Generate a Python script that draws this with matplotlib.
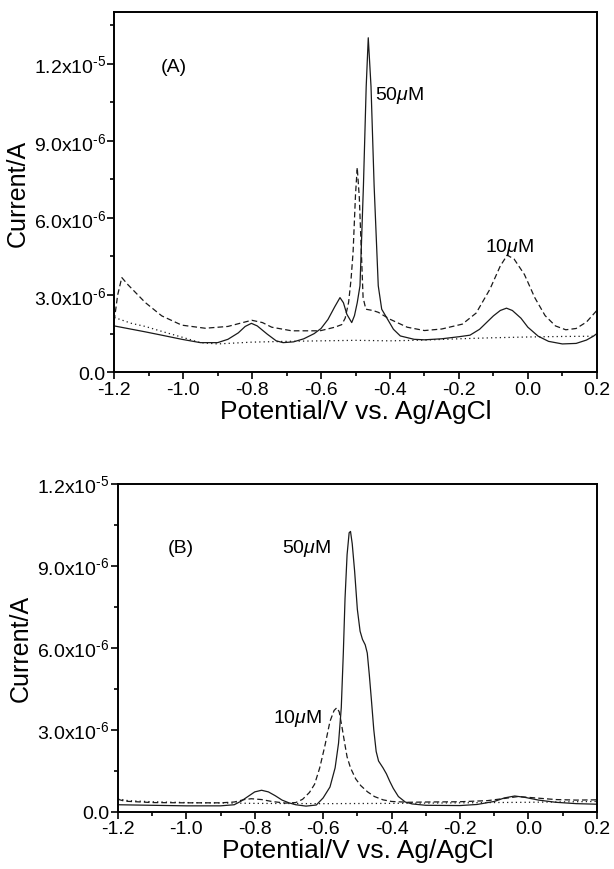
import matplotlib
matplotlib.use("Agg")
import matplotlib.pyplot as plt
from matplotlib.ticker import MultipleLocator, FuncFormatter

plt.rcParams['font.family'] = ['Liberation Sans', 'DejaVu Sans']
plt.rcParams['mathtext.fontset'] = 'custom'
plt.rcParams['mathtext.rm'] = 'Liberation Sans'
plt.rcParams['mathtext.it'] = 'Liberation Sans:italic'

# ---- panel A (values in 1e-6 A) ----
a50_x = [-1.2, -1.11, -1.062, -1.004, -0.95, -0.9, -0.87, -0.84, -0.82, -0.802, -0.785, -0.756,
         -0.73, -0.71, -0.68, -0.65, -0.62, -0.6, -0.58, -0.56, -0.545, -0.535, -0.525, -0.511,
         -0.503, -0.495, -0.487, -0.477, -0.469, -0.463, -0.455, -0.446, -0.434, -0.424, -0.39,
         -0.37, -0.33, -0.3, -0.25, -0.2, -0.168, -0.14, -0.1, -0.08, -0.062, -0.045, -0.02, 0.0,
         0.03, 0.06, 0.1, 0.14, 0.17, 0.19, 0.2]
a50_y = [1.8, 1.57, 1.44, 1.28, 1.15, 1.15, 1.28, 1.53, 1.78, 1.9, 1.8, 1.48,
         1.22, 1.15, 1.18, 1.3, 1.5, 1.7, 2.05, 2.55, 2.9, 2.7, 2.25, 1.93,
         2.2, 2.7, 3.36, 7.25, 11.1, 13.0, 11.1, 7.25, 3.36, 2.45, 1.67,
         1.41, 1.28, 1.26, 1.3, 1.38, 1.44, 1.67, 2.19, 2.4, 2.49, 2.4, 2.1, 1.75,
         1.4, 1.2, 1.1, 1.12, 1.25, 1.4, 1.5]

a10_x = [-1.2, -1.19, -1.178, -1.16, -1.11, -1.062, -1.004, -0.936, -0.87, -0.83, -0.801, -0.77,
         -0.743, -0.685, -0.603, -0.56, -0.54, -0.53, -0.52, -0.513, -0.507, -0.5, -0.495, -0.489,
         -0.483, -0.478, -0.47, -0.45, -0.434, -0.4, -0.35, -0.3, -0.25, -0.19, -0.15, -0.11,
         -0.08, -0.06, -0.04, -0.01, 0.02, 0.05, 0.08, 0.11, 0.14, 0.17, 0.2]
a10_y = [2.0, 3.0, 3.68, 3.4, 2.71, 2.19, 1.83, 1.71, 1.78, 1.92, 2.02, 1.93,
         1.75, 1.61, 1.61, 1.75, 1.85, 2.1, 2.72, 3.6, 4.67, 6.9, 7.96, 6.8,
         4.67, 2.9, 2.45, 2.4, 2.33, 2.06, 1.75, 1.62, 1.68, 1.87, 2.3, 3.23,
         4.13, 4.55, 4.4, 3.8, 2.9, 2.2, 1.8, 1.65, 1.7, 1.95, 2.4]

a0_x = [-1.2, -1.15, -1.11, -1.06, -1.0, -0.95, -0.9, -0.8, -0.7, -0.6, -0.5, -0.4, -0.3,
        -0.2, -0.1, 0.0, 0.1, 0.2]
a0_y = [2.13, 1.9, 1.78, 1.58, 1.35, 1.15, 1.1, 1.17, 1.2, 1.22, 1.24, 1.22, 1.25,
        1.3, 1.34, 1.37, 1.39, 1.4]

# ---- panel B (values in 1e-6 A) ----
b50_x = [-1.2, -1.1, -1.0, -0.9, -0.86, -0.84, -0.82, -0.8, -0.78, -0.76, -0.74, -0.72, -0.7,
         -0.68, -0.65, -0.62, -0.6, -0.58, -0.565, -0.555, -0.547, -0.541, -0.536, -0.53,
         -0.524, -0.52, -0.515, -0.508, -0.5, -0.492, -0.485, -0.477, -0.471, -0.465, -0.459,
         -0.452, -0.445, -0.438, -0.425, -0.415, -0.405, -0.395, -0.38, -0.36, -0.34, -0.3,
         -0.2, -0.15, -0.1, -0.07, -0.04, -0.01, 0.03, 0.08, 0.14, 0.2]
b50_y = [0.25, 0.23, 0.21, 0.21, 0.25, 0.38, 0.55, 0.72, 0.78, 0.72, 0.58, 0.42, 0.32,
         0.25, 0.2, 0.24, 0.5, 0.9, 1.6, 2.5, 3.8, 5.8, 7.8, 9.4,
         10.2, 10.25, 9.8, 8.8, 7.4, 6.6, 6.3, 6.1, 5.8, 5.0, 4.1,
         3.0, 2.2, 1.85, 1.6, 1.38, 1.1, 0.85, 0.55, 0.35, 0.28, 0.23,
         0.22, 0.26, 0.37, 0.5, 0.57, 0.52, 0.42, 0.34, 0.29, 0.27]

b10_x = [-1.2, -1.18, -1.1, -1.0, -0.9, -0.86, -0.83, -0.81, -0.78, -0.75, -0.71, -0.68, -0.66,
         -0.64, -0.625, -0.61, -0.595, -0.58, -0.568, -0.56, -0.553, -0.545, -0.537, -0.53,
         -0.52, -0.505, -0.49, -0.47, -0.45, -0.425, -0.4, -0.35, -0.3, -0.2, -0.12, -0.07,
         -0.03, 0.02, 0.08, 0.14, 0.2]
b10_y = [0.45, 0.38, 0.33, 0.32, 0.32, 0.35, 0.44, 0.47, 0.44, 0.37, 0.31, 0.33, 0.45,
         0.7, 1.0, 1.6, 2.4, 3.3, 3.7, 3.8, 3.65, 3.1, 2.5, 2.0,
         1.6, 1.2, 0.95, 0.72, 0.55, 0.43, 0.37, 0.34, 0.35, 0.36, 0.4, 0.48,
         0.55, 0.5, 0.44, 0.42, 0.43]

b0_x = [-1.2, -1.17, -1.1, -1.0, -0.8, -0.6, -0.4, -0.2, 0.0, 0.2]
b0_y = [0.47, 0.4, 0.36, 0.33, 0.3, 0.29, 0.3, 0.32, 0.34, 0.37]

col = '#1a1a1a'


def sci_fmt(v, pos):
    if abs(v) < 1e-12:
        return '0.0'
    exp = int(f'{v:e}'.split('e')[1])
    mant = v / 10 ** exp
    # short hyphen in the exponent, like the original figure
    return f'{mant:.1f}x10$^{{\u2010{abs(exp)}}}$'


def style(ax, ytop):
    ax.set_xlim(-1.2, 0.2)
    ax.set_ylim(0, ytop)
    ax.xaxis.set_major_locator(MultipleLocator(0.2))
    ax.xaxis.set_minor_locator(MultipleLocator(0.1))
    ax.yaxis.set_major_locator(MultipleLocator(3e-6))
    ax.yaxis.set_minor_locator(MultipleLocator(1.5e-6))
    ax.xaxis.set_major_formatter(FuncFormatter(lambda v, p: f'{v:.1f}'))
    ax.yaxis.set_major_formatter(FuncFormatter(sci_fmt))
    ax.tick_params(which='both', direction='out', top=False, right=False,
                   labelsize=14, width=1.2, pad=1)
    ax.tick_params(which='major', length=5)
    ax.tick_params(which='minor', length=3)
    ax.yaxis.get_offset_text().set_visible(False)
    for s in ax.spines.values():
        s.set_linewidth(1.4)
    ax.set_xlabel('Potential/V vs. Ag/AgCl', fontsize=19, labelpad=1)
    ax.set_ylabel('Current/A', fontsize=18, labelpad=3)


def scale(vals):
    return [v * 1e-6 for v in vals]


fig = plt.figure(figsize=(6.14, 8.70), dpi=100)

ax1 = fig.add_axes([0.186, 0.571, 0.786, 0.414])
ax1.plot(a0_x, scale(a0_y), color=col, lw=0.9, linestyle=(0, (1, 2.5)))
ax1.plot(a10_x, scale(a10_y), color=col, lw=0.9, linestyle=(0, (4.5, 2.5)))
ax1.plot(a50_x, scale(a50_y), color=col, lw=0.9)
style(ax1, 1.4e-5)
ax1.text(-1.065, 11.9e-6, '(A)', fontsize=14, va='center')
ax1.text(-0.444, 10.8e-6, '50$\\mu$M', fontsize=14, va='center')
ax1.text(-0.125, 4.9e-6, '10$\\mu$M', fontsize=14, va='center')

ax2 = fig.add_axes([0.192, 0.066, 0.780, 0.377])
ax2.plot(b0_x, scale(b0_y), color=col, lw=0.9, linestyle=(0, (1, 2.5)))
ax2.plot(b10_x, scale(b10_y), color=col, lw=0.9, linestyle=(0, (4.5, 2.5)))
ax2.plot(b50_x, scale(b50_y), color=col, lw=0.9)
style(ax2, 1.2e-5)
ax2.text(-1.054, 9.65e-6, '(B)', fontsize=14, va='center')
ax2.text(-0.72, 9.65e-6, '50$\\mu$M', fontsize=14, va='center')
ax2.text(-0.746, 3.43e-6, '10$\\mu$M', fontsize=14, va='center')

fig.savefig('out.png', dpi=100)
